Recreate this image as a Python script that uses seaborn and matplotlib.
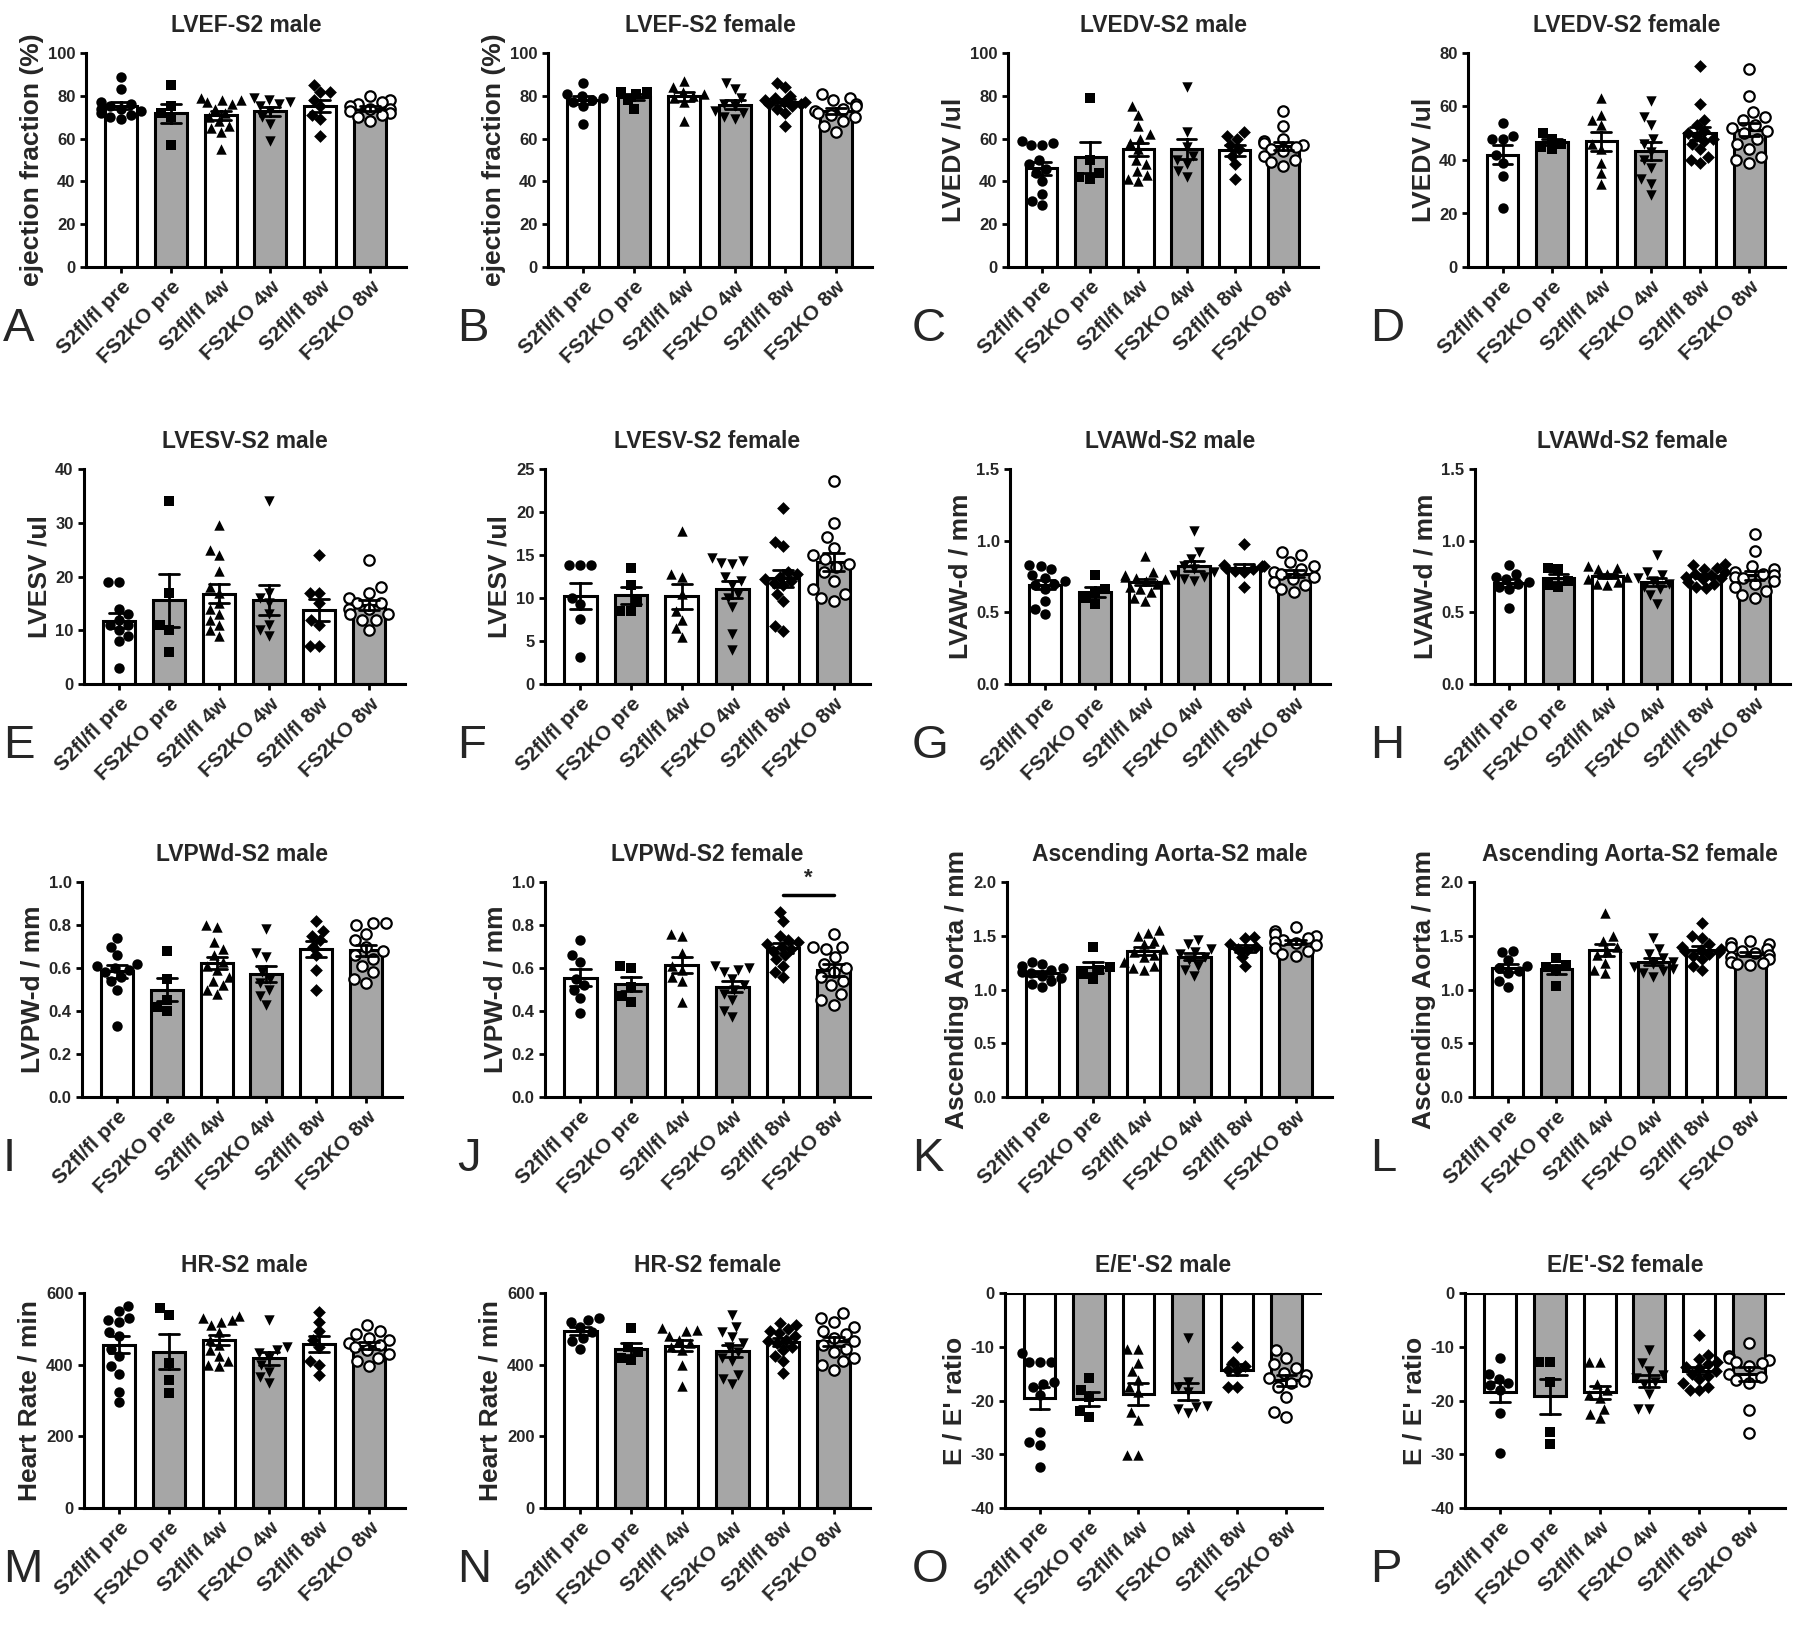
import numpy as np
import pandas as pd
import matplotlib
matplotlib.use("Agg")
import matplotlib.pyplot as plt
import seaborn as sns

sns.set_style("white")
plt.rcParams["font.family"] = ["Liberation Sans", "DejaVu Sans"]

# ---------------- data ----------------
groups = ["S2fl/fl pre", "FS2KO pre", "S2fl/fl 4w", "FS2KO 4w", "S2fl/fl 8w", "FS2KO 8w"]
group_markers = ["o", "s", "^", "v", "D", "o"]
bar_colors = ["white", "#a6a6a6", "white", "#a6a6a6", "white", "#a6a6a6"]

lvef_male = [
    [89, 83, 77, 76, 75, 74, 74, 73, 72, 71, 70, 69],
    [85, 75, 72, 70, 57],
    [79, 78, 78, 77, 76, 74, 72, 70, 68, 66, 65, 63, 55],
    [79, 78, 77, 76, 75, 73, 70, 67, 59],
    [85, 82, 82, 78, 75, 71, 69, 61],
    [80, 78, 77, 76, 75, 74, 74, 73, 72, 71, 70, 68],
]
lvef_female = [
    [86, 81, 80, 79, 78, 77, 75, 67],
    [82, 82, 81, 78, 74],
    [87, 84, 82, 81, 80, 79, 77, 68],
    [86, 83, 79, 76, 75, 73, 72, 70, 69],
    [86, 84, 80, 79, 78, 77, 77, 76, 76, 75, 74, 72, 66],
    [81, 79, 78, 76, 75, 74, 73, 72, 71, 70, 68, 66, 63],
]
lvedv_male = [
    [59, 58, 57, 57, 50, 48, 46, 44, 40, 34, 31, 29],
    [79, 50, 44, 42, 41],
    [75, 71, 66, 62, 60, 58, 55, 50, 48, 45, 43, 41, 40],
    [84, 63, 56, 52, 50, 48, 45, 42],
    [63, 61, 60, 57, 55, 52, 48, 41],
    [73, 66, 60, 59, 58, 57, 56, 55, 54, 52, 50, 49, 47],
]
lvedv_female = [
    [54, 49, 48, 48, 42, 39, 34, 22],
    [50, 48, 46, 45, 44],
    [63, 57, 55, 53, 46, 44, 39, 35, 31],
    [62, 56, 53, 48, 46, 43, 40, 37, 33, 31, 27],
    [75, 61, 55, 53, 51, 50, 49, 48, 47, 46, 44, 41, 40, 39],
    [74, 64, 58, 56, 55, 53, 52, 51, 50, 48, 46, 44, 41, 40, 39],
]
lvesv_male = [
    [19, 19, 14, 13, 12, 11, 11, 10, 9, 8, 3],
    [34, 17, 11, 10, 6],
    [29.5, 25, 24, 21, 18, 17, 15, 14, 13, 12, 11, 10, 9],
    [34, 17, 16, 15, 13, 11, 10, 9],
    [24, 17, 17, 15, 12, 11, 7, 7],
    [23, 18, 17, 16, 15, 15, 14, 14, 13, 13, 12, 12, 10],
]
lvesv_female = [
    [13.8, 13.8, 13.8, 10, 9.3, 7.6, 3.1],
    [13.5, 11.5, 9.5, 8.5, 8.5],
    [17.8, 12.8, 12.5, 10.5, 8.5, 7.5, 6.5, 5.5],
    [14.6, 14.3, 14.1, 14, 12.5, 12, 11.5, 10.5, 10, 8.9, 5.8, 3.9],
    [20.5, 16.5, 16, 13, 12.8, 12.5, 12.2, 12, 11.7, 11.5, 10.5, 9.7, 6.8, 6.2],
    [23.6, 18.7, 17.1, 15.8, 15, 14.5, 14, 13.6, 13, 12, 11, 10.5, 10, 9.7],
]
lvawd_male = [
    [0.83, 0.82, 0.80, 0.76, 0.74, 0.72, 0.70, 0.69, 0.66, 0.58, 0.52, 0.49],
    [0.76, 0.66, 0.64, 0.60, 0.56],
    [0.89, 0.78, 0.76, 0.75, 0.74, 0.73, 0.72, 0.70, 0.68, 0.66, 0.64, 0.60, 0.58],
    [1.07, 0.92, 0.87, 0.82, 0.80, 0.78, 0.76, 0.75, 0.73, 0.72],
    [0.98, 0.83, 0.82, 0.82, 0.81, 0.80, 0.79, 0.78, 0.68],
    [0.92, 0.90, 0.85, 0.82, 0.80, 0.78, 0.77, 0.75, 0.73, 0.71, 0.69, 0.66, 0.64],
]
lvawd_female = [
    [0.83, 0.77, 0.75, 0.73, 0.71, 0.70, 0.68, 0.66, 0.53],
    [0.81, 0.80, 0.72, 0.69, 0.68],
    [0.82, 0.81, 0.80, 0.77, 0.75, 0.73, 0.71, 0.70, 0.69],
    [0.90, 0.78, 0.76, 0.74, 0.72, 0.70, 0.68, 0.66, 0.62, 0.56],
    [0.84, 0.83, 0.81, 0.80, 0.78, 0.77, 0.76, 0.75, 0.74, 0.73, 0.71, 0.70, 0.68, 0.67],
    [1.05, 0.93, 0.82, 0.80, 0.78, 0.77, 0.76, 0.75, 0.74, 0.72, 0.70, 0.68, 0.65, 0.62, 0.60],
]
lvpwd_male = [
    [0.74, 0.70, 0.66, 0.62, 0.61, 0.60, 0.59, 0.58, 0.56, 0.54, 0.50, 0.33],
    [0.68, 0.55, 0.45, 0.42, 0.40],
    [0.80, 0.79, 0.72, 0.69, 0.66, 0.63, 0.61, 0.59, 0.56, 0.54, 0.52, 0.50, 0.48],
    [0.78, 0.67, 0.65, 0.58, 0.55, 0.53, 0.50, 0.47, 0.43],
    [0.82, 0.77, 0.75, 0.73, 0.70, 0.66, 0.59, 0.50],
    [0.81, 0.81, 0.80, 0.76, 0.73, 0.70, 0.68, 0.66, 0.64, 0.61, 0.58, 0.55, 0.53],
]
lvpwd_female = [
    [0.73, 0.66, 0.63, 0.55, 0.52, 0.50, 0.46, 0.39],
    [0.61, 0.60, 0.51, 0.47, 0.44],
    [0.76, 0.75, 0.67, 0.61, 0.59, 0.56, 0.54, 0.44],
    [0.61, 0.60, 0.59, 0.58, 0.55, 0.52, 0.50, 0.48, 0.45, 0.40, 0.37],
    [0.86, 0.82, 0.75, 0.73, 0.72, 0.71, 0.70, 0.69, 0.68, 0.66, 0.64, 0.61, 0.58, 0.56],
    [0.76, 0.70, 0.70, 0.69, 0.65, 0.62, 0.60, 0.58, 0.56, 0.54, 0.52, 0.48, 0.45, 0.43],
]
aorta_male = [
    [1.26, 1.24, 1.22, 1.20, 1.18, 1.16, 1.15, 1.13, 1.11, 1.08, 1.05, 1.02],
    [1.40, 1.21, 1.18, 1.14, 1.10],
    [1.55, 1.53, 1.50, 1.45, 1.42, 1.38, 1.35, 1.32, 1.30, 1.26, 1.22, 1.20, 1.18],
    [1.46, 1.42, 1.38, 1.35, 1.33, 1.30, 1.27, 1.22, 1.18, 1.13],
    [1.49, 1.48, 1.42, 1.40, 1.38, 1.37, 1.30, 1.22],
    [1.58, 1.54, 1.52, 1.50, 1.48, 1.46, 1.44, 1.43, 1.41, 1.39, 1.36, 1.33, 1.31],
]
aorta_female = [
    [1.36, 1.35, 1.27, 1.22, 1.20, 1.17, 1.15, 1.08, 1.02],
    [1.29, 1.23, 1.21, 1.18, 1.03],
    [1.71, 1.50, 1.45, 1.40, 1.36, 1.32, 1.25, 1.18, 1.15],
    [1.48, 1.38, 1.33, 1.29, 1.26, 1.24, 1.21, 1.19, 1.17, 1.15, 1.12],
    [1.62, 1.50, 1.48, 1.42, 1.40, 1.38, 1.37, 1.36, 1.35, 1.33, 1.31, 1.28, 1.22, 1.18],
    [1.45, 1.43, 1.42, 1.40, 1.38, 1.36, 1.34, 1.32, 1.30, 1.28, 1.26, 1.25, 1.24, 1.23],
]
hr_male = [
    [565, 550, 530, 525, 520, 490, 480, 445, 425, 395, 375, 325, 295],
    [558, 540, 405, 358, 320],
    [535, 530, 525, 520, 510, 490, 470, 455, 440, 425, 410, 400, 395],
    [525, 450, 440, 432, 420, 400, 380, 365, 350],
    [548, 520, 493, 470, 450, 410, 400, 370],
    [510, 495, 485, 475, 468, 460, 455, 448, 440, 430, 420, 410, 395],
]
hr_female = [
    [530, 525, 520, 505, 490, 475, 465, 445],
    [502, 450, 435, 420, 412],
    [502, 498, 493, 480, 470, 460, 450, 440, 400, 340],
    [540, 505, 490, 478, 460, 450, 435, 420, 410, 370, 360, 345],
    [515, 510, 500, 495, 488, 480, 470, 465, 460, 450, 440, 425, 410, 378],
    [545, 530, 520, 505, 495, 485, 475, 465, 455, 445, 435, 420, 410, 400, 385],
]
ee_male = [
    [-11.2, -12.8, -12.8, -12.8, -16.5, -17.0, -17.5, -19.0, -25.8, -27.7, -28.3, -32.4],
    [-15.9, -18.0, -19.3, -22.0, -23.1],
    [-10.5, -10.5, -13.0, -14.6, -16.2, -17.4, -18.5, -22.1, -23.6, -30.2, -30.2],
    [-8.4, -16.5, -17.5, -18.5, -21.0, -21.2, -21.5, -22.4],
    [-10.0, -12.8, -13.5, -14.3, -14.3, -17.4, -17.4],
    [-10.6, -12.0, -13.2, -14.0, -14.8, -15.3, -15.8, -16.3, -16.8, -17.5, -19.3, -22.2, -23.0],
]
ee_female = [
    [-12.1, -15.0, -16.0, -16.8, -17.2, -18.0, -22.4, -29.7],
    [-12.8, -12.8, -16.5, -25.8, -28.0],
    [-12.8, -12.8, -17.0, -18.0, -19.0, -19.5, -21.5, -22.5, -23.3],
    [-10.6, -13.1, -14.5, -15.2, -15.8, -16.5, -17.0, -18.7, -21.5, -21.5],
    [-7.8, -11.5, -12.2, -12.8, -13.2, -13.7, -14.0, -14.5, -15.0, -15.5, -16.0, -16.8, -17.4, -18.0, -18.0],
    [-9.3, -11.8, -12.0, -12.4, -12.8, -13.1, -13.5, -15.0, -15.6, -16.2, -16.8, -21.8, -26.1],
]

titles = ["LVEF-S2 male", "LVEF-S2 female", "LVEDV-S2 male", "LVEDV-S2 female",
          "LVESV-S2 male", "LVESV-S2 female", "LVAWd-S2 male", "LVAWd-S2 female",
          "LVPWd-S2 male", "LVPWd-S2 female", "Ascending Aorta-S2 male", "Ascending Aorta-S2 female",
          "HR-S2 male", "HR-S2 female", "E/E'-S2 male", "E/E'-S2 female"]
ylabels = ["ejection fraction (%)", "ejection fraction (%)", "LVEDV /ul", "LVEDV /ul",
           "LVESV /ul", "LVESV /ul", "LVAW-d / mm", "LVAW-d / mm",
           "LVPW-d / mm", "LVPW-d / mm", "Ascending Aorta / mm", "Ascending Aorta / mm",
           "Heart Rate / min", "Heart Rate / min", "E / E' ratio", "E / E' ratio"]
letters = list("ABCDEFGHIJKLMNOP")
yticks_list = [
    [0, 20, 40, 60, 80, 100], [0, 20, 40, 60, 80, 100], [0, 20, 40, 60, 80, 100], [0, 20, 40, 60, 80],
    [0, 10, 20, 30, 40], [0, 5, 10, 15, 20, 25], [0.0, 0.5, 1.0, 1.5], [0.0, 0.5, 1.0, 1.5],
    [0.0, 0.2, 0.4, 0.6, 0.8, 1.0], [0.0, 0.2, 0.4, 0.6, 0.8, 1.0], [0.0, 0.5, 1.0, 1.5, 2.0], [0.0, 0.5, 1.0, 1.5, 2.0],
    [0, 200, 400, 600], [0, 200, 400, 600], [-40, -30, -20, -10, 0], [-40, -30, -20, -10, 0],
]
ytick_fmt = ["{:.0f}"] * 6 + ["{:.1f}"] * 6 + ["{:.0f}"] * 4
all_data = [lvef_male, lvef_female, lvedv_male, lvedv_female,
            lvesv_male, lvesv_female, lvawd_male, lvawd_female,
            lvpwd_male, lvpwd_female, aorta_male, aorta_female,
            hr_male, hr_female, ee_male, ee_female]

# significance annotation in panel J (LVPWd female)
sig_pair = (4, 5)
sig_y = 0.94
sig_text = "*"

# ---------------- layout (pixels of the 1800x1626 canvas) ----------------
W, H = 1800, 1626
col_lr = [
    [(86, 406), (548, 872), (1008, 1318), (1468, 1785)],
    [(84, 405), (545, 870), (1010, 1330), (1475, 1790)],
    [(82, 402), (545, 870), (1007, 1332), (1474, 1785)],
    [(84, 405), (545, 870), (1005, 1322), (1465, 1785)],
]
row_tb = [(53, 267), (469, 684), (882, 1097), (1293, 1508)]
letter_x = [3, 457, 912, 1370]

fig = plt.figure(figsize=(18, 16.26), dpi=100)

for idx in range(16):
    r, c = divmod(idx, 4)
    l, rr = col_lr[r][c]
    t, b = row_tb[r]
    ax = fig.add_axes([l / W, 1 - b / H, (rr - l) / W, (b - t) / H])
    data = all_data[idx]
    rows = [(groups[i], v) for i, vals in enumerate(data) for v in vals]
    df = pd.DataFrame(rows, columns=["group", "value"])

    sns.barplot(data=df, x="group", y="value", order=groups, hue="group",
                hue_order=groups, palette=bar_colors, legend=False,
                errorbar="se", capsize=0.4, width=0.64,
                edgecolor="black", linewidth=2.2,
                err_kws={"color": "black", "linewidth": 2.0, "zorder": 6},
                ax=ax, zorder=2)
    for i, g in enumerate(groups):
        sub = df[df["group"] == g]
        open_marker = (i == 5)
        sns.swarmplot(data=sub, x="group", y="value", order=groups,
                      marker=group_markers[i],
                      color="white" if open_marker else "black",
                      edgecolor="black", linewidth=1.6 if open_marker else 0,
                      size=6.5 if group_markers[i] == "D" else 7.5,
                      ax=ax, zorder=4)

    ticks = yticks_list[idx]
    ax.set_ylim(ticks[0], ticks[-1])
    ax.set_xlim(-0.7, 5.72)
    ax.set_yticks(ticks)
    ax.set_yticklabels([ytick_fmt[idx].format(v) for v in ticks],
                       fontsize=12, fontweight="bold")
    ax.set_xticks(range(len(groups)))
    ax.set_xticklabels(groups, rotation=45, ha="right", rotation_mode="anchor",
                       fontsize=15, fontweight="bold")
    ax.set_xlabel("")
    ax.set_ylabel(ylabels[idx], fontsize=19, fontweight="bold", labelpad=3)
    ax.set_title(titles[idx], fontsize=16.5, fontweight="bold", pad=15)
    for s in ["top", "right"]:
        ax.spines[s].set_visible(False)
    for s in ["left", "bottom"]:
        ax.spines[s].set_linewidth(2.2)
        ax.spines[s].set_color("black")
    ax.tick_params(axis="both", direction="out", width=2, length=4.5, color="black",
                   left=True, bottom=True, pad=3)
    ax.set_facecolor("white")
    if ticks[0] < 0:
        ax.axhline(0, color="black", linewidth=2.2, zorder=7)

    if idx == 9:
        x0, x1 = sig_pair
        ax.plot([x0, x1], [sig_y, sig_y], color="black", linewidth=2.5, clip_on=False)
        ax.text((x0 + x1) / 2, sig_y + 0.03, sig_text, ha="center", va="bottom",
                fontsize=16, fontweight="bold")

    fig.text(letter_x[c] / W, 1 - (b + 62) / H, letters[idx], fontsize=34,
             ha="left", va="center")

fig.savefig("out.png", dpi=100, facecolor="white")
